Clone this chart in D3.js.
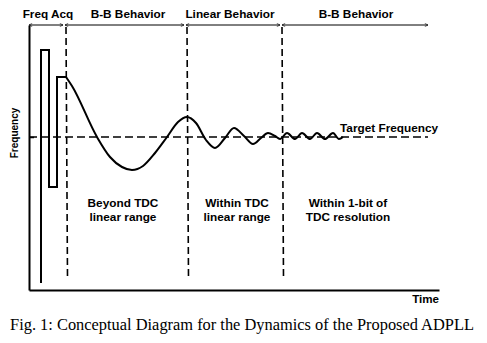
<!DOCTYPE html>
<html><head><meta charset="utf-8">
<script src="https://cdn.jsdelivr.net/npm/d3@7"></script>
<style>
html,body{margin:0;padding:0;background:#fff;}
svg{display:block;}
</style></head>
<body>
<svg id="chart" width="487" height="343"></svg>
<script>
// ---- data (time / frequency in arbitrary units) ----
const phaseNames = ["Freq Acq", "B-B Behavior", "Linear Behavior", "B-B Behavior"];
const phaseLabelT = [19, 99, 201, 327];
const phaseStart = [0, 36, 157, 253];
const phaseEnd = [34, 155, 251, 399];
const boundaryT = [37, 158, 253];
const regionLines1 = ["Beyond TDC", "Within TDC", "Within 1-bit of"];
const regionLines2 = ["linear range", "linear range", "TDC resolution"];
const regionT = [94, 208, 319];
const targetFreq = 153;
const targetEndT = 399;
// frequency-acquisition pulses (piecewise linear)
const acqT = [12, 12, 20, 20, 28, 28, 37];
const acqF = [7, 240, 240, 103, 103, 213, 213];
// settling waveform (smooth)
const settleT = [37, 43, 68, 81, 93, 103, 114, 126, 138, 149, 158, 167, 177, 186, 196, 205, 215, 224, 232, 239, 246, 251, 258, 266, 273, 281, 288, 296, 304, 310, 314];
const settleF = [213, 204, 153, 133, 123, 120, 124, 137, 153, 168, 173, 167, 150, 142, 152, 162, 154, 146, 152, 157, 154, 151, 157, 151, 157, 151, 157, 151, 157, 151, 153];

const svg = d3.select("#chart");
const x = d3.scaleLinear().domain([0, 410]).range([29, 439]);
const y = d3.scaleLinear().domain([0, 265]).range([290, 25]);
const bold = "'Liberation Sans', Arial, sans-serif";

// markers
const defs = svg.append("defs");
defs.append("marker").attr("id", "arr").attr("viewBox", "0 0 10 10")
  .attr("refX", 9).attr("refY", 5).attr("markerWidth", 4).attr("markerHeight", 4)
  .attr("markerUnits", "userSpaceOnUse").attr("orient", "auto-start-reverse")
  .append("path").attr("d", "M1,1 L9,5 L1,9").attr("fill", "none")
  .attr("stroke", "#000").attr("stroke-width", 1.5);

// phase arrows
svg.append("g").selectAll("line").data(phaseStart).join("line")
  .attr("x1", d => x(d)).attr("x2", (d, i) => x(phaseEnd[i]))
  .attr("y1", 25).attr("y2", 25)
  .attr("stroke", "#000").attr("stroke-width", 1)
  .attr("marker-start", "url(#arr)").attr("marker-end", "url(#arr)");

svg.append("g").selectAll("text").data(phaseNames).join("text")
  .attr("x", (d, i) => x(phaseLabelT[i])).attr("y", 17.5)
  .attr("text-anchor", "middle").attr("font-family", bold)
  .attr("font-weight", "bold").attr("font-size", 11.8).text(d => d);

// boundaries
svg.append("g").selectAll("line").data(boundaryT).join("line")
  .attr("x1", d => x(d)).attr("x2", d => x(d) + 1.5)
  .attr("y1", 27).attr("y2", 278)
  .attr("stroke", "#000").attr("stroke-width", 1.6).attr("stroke-dasharray", "7,4");

// target line
svg.append("line").attr("x1", x(0)).attr("x2", x(targetEndT))
  .attr("y1", y(targetFreq)).attr("y2", y(targetFreq))
  .attr("stroke", "#000").attr("stroke-width", 1.6).attr("stroke-dasharray", "8,4");

// axes
const yAxis = d3.axisRight(y).tickValues([targetFreq]).tickSize(5).tickSizeOuter(0).tickFormat("");
const gy = svg.append("g").attr("transform", `translate(${x(0)},0)`).call(yAxis);
const xAxis = d3.axisBottom(x).tickValues([]).tickSizeOuter(0);
const gx = svg.append("g").attr("transform", `translate(0,${y(0)})`).call(xAxis);
[gy, gx].forEach(g => {
  g.select(".domain").attr("stroke", "#000").attr("stroke-width", 2);
  g.selectAll(".tick line").attr("stroke", "#000").attr("stroke-width", 1.5);
});

// waveform
const acqLine = d3.line().x((d, i) => x(acqT[i])).y((d, i) => y(acqF[i]));
svg.append("path").attr("d", acqLine(acqT)).attr("fill", "none")
  .attr("stroke", "#000").attr("stroke-width", 2).attr("stroke-linejoin", "miter");
const settleLine = d3.line().curve(d3.curveMonotoneX)
  .x((d, i) => x(settleT[i])).y((d, i) => y(settleF[i]));
svg.append("path").attr("d", settleLine(settleT)).attr("fill", "none")
  .attr("stroke", "#000").attr("stroke-width", 2).attr("stroke-linejoin", "round");

// region texts
const rg = svg.append("g").attr("font-family", bold).attr("font-weight", "bold")
  .attr("font-size", 11.8).attr("text-anchor", "middle");
rg.selectAll("text.l1").data(regionLines1).join("text").attr("class", "l1")
  .attr("x", (d, i) => x(regionT[i])).attr("y", 207).text(d => d);
rg.selectAll("text.l2").data(regionLines2).join("text").attr("class", "l2")
  .attr("x", (d, i) => x(regionT[i])).attr("y", 221).text(d => d);

// labels
svg.append("text").attr("x", 340).attr("y", 132).attr("font-family", bold)
  .attr("font-weight", "bold").attr("font-size", 11.8).text("Target Frequency");
svg.append("text").attr("x", 439).attr("y", 303).attr("text-anchor", "end")
  .attr("font-family", bold).attr("font-weight", "bold").attr("font-size", 11.6).text("Time");
svg.append("text").attr("transform", "translate(18,133) rotate(-90)")
  .attr("text-anchor", "middle").attr("font-family", bold).attr("font-weight", "bold")
  .attr("font-size", 10).text("Frequency");

// caption
svg.append("text").attr("x", 242).attr("y", 330).attr("text-anchor", "middle")
  .attr("font-family", "'Liberation Serif', 'Times New Roman', serif")
  .attr("font-size", 16.4).text("Fig. 1: Conceptual Diagram for the Dynamics of the Proposed ADPLL");
</script>
</body></html>
